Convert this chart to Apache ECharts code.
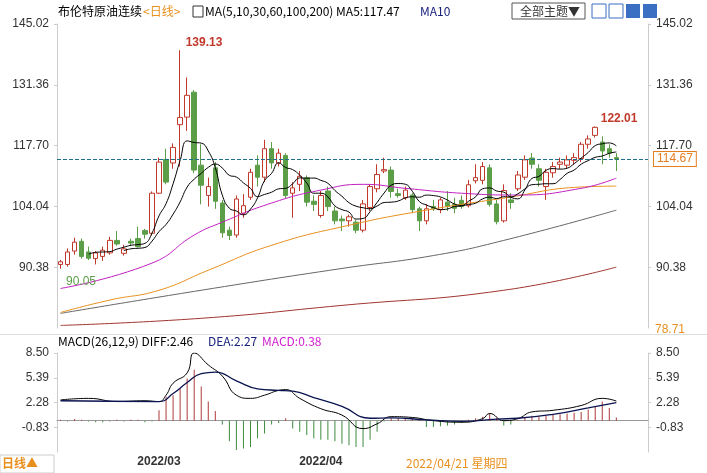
<!DOCTYPE html>
<html><head><meta charset="utf-8">
<script src="https://cdn.jsdelivr.net/npm/echarts@6/dist/echarts.min.js"></script>
<style>html,body{margin:0;padding:0;background:#fff}#c{width:707px;height:473px}</style>
</head><body><div id="c"></div>
<script>
// [open, close, low, high]
const candles = [
[91.0,91.6,90.05,92.0],[91.0,93.8,90.5,94.6],[94.0,96.0,93.2,97.0],[96.2,92.8,92.3,96.8],[93.8,92.4,92.0,95.0],
[92.3,93.6,91.0,94.0],[92.8,94.2,91.8,95.0],[93.6,96.4,93.2,97.2],[96.4,95.6,95.2,98.5],[93.5,94.5,93.0,95.4],
[96.2,95.8,95.2,96.8],[96.8,95.0,94.8,99.5],[98.6,97.8,96.8,99.0],[98.0,107.0,97.5,107.4],[107.0,114.0,106.8,115.0],
[114.6,109.5,109.0,117.0],[113.8,117.3,112.5,118.2],[122.4,124.0,113.0,139.13],[124.1,129.0,121.0,133.0],[129.7,112.2,111.5,130.2],
[113.3,108.8,104.5,118.0],[106.5,108.5,104.0,110.5],[112.7,105.2,103.5,114.0],[104.8,98.1,97.0,105.5],[98.7,97.5,96.5,99.5],
[97.6,105.7,97.0,106.5],[102.5,104.2,101.5,106.8],[106.1,111.7,105.5,112.5],[113.3,110.6,108.5,115.5],[110.6,117.0,109.5,119.0],
[117.0,113.8,112.5,118.5],[113.8,116.0,113.0,117.0],[115.5,106.5,105.8,116.0],[107.0,108.2,101.5,109.5],[109.0,110.8,107.5,112.0],
[110.5,105.0,104.0,111.0],[105.2,104.5,103.0,106.5],[102.0,106.5,101.5,107.5],[107.5,104.0,103.0,108.5],[103.0,100.8,100.0,104.0],
[101.2,100.8,98.5,102.0],[100.8,101.7,99.5,102.2],[100.5,98.7,98.0,101.0],[98.7,104.6,98.2,105.5],[103.8,108.5,103.0,109.0],
[108.0,111.2,107.2,113.5],[112.0,112.3,111.5,115.0],[112.2,107.4,106.0,113.0],[106.9,106.5,106.0,108.0],[106.0,107.7,105.5,108.5],
[106.6,103.3,102.5,107.0],[103.5,100.8,98.5,104.0],[100.8,103.5,100.0,104.5],[104.0,103.5,103.0,105.5],[103.3,105.5,102.5,106.0],
[105.0,104.0,103.0,107.5],[104.5,103.6,102.5,106.0],[105.4,104.0,103.5,106.5],[104.2,108.9,103.8,110.0],[109.8,110.5,109.2,113.5],
[109.9,113.0,109.0,114.0],[112.7,104.5,104.0,113.5],[104.6,100.6,100.0,105.5],[100.8,107.6,100.4,109.0],[105.5,104.9,103.5,107.0],
[108.0,111.1,107.5,112.0],[110.6,114.5,110.0,115.5],[114.9,113.5,112.5,116.0],[112.5,109.9,108.5,113.5],[108.5,111.7,105.5,112.5],
[111.6,113.0,110.5,114.0],[113.5,114.0,112.5,115.0],[113.3,114.5,112.5,115.5],[114.4,115.0,113.5,116.0],[114.8,118.0,114.0,118.5],
[118.0,119.2,117.0,120.0],[120.0,121.8,119.5,122.01],[118.5,116.5,113.5,119.8],[117.0,116.0,115.0,118.0],[115.0,114.67,112.0,116.0]];
const EMPTY_SLOTS = 4;
const N = candles.length + EMPTY_SLOTS;
const categories = Array.from({length:N}, (_, i) => i === 14 ? '2022/03' : (i === 37 ? '2022/04' : 'd' + i));
const ma30Pts = {0:85.6,13:91.3,19:97.6,23:100.5,30:104.8,37:107.7,43:109.0,49:108.1,57:107.0,65:106.6,74:108.1,79:110.4};
const ma60Pts = {0:80.2,7:83.0,14:85.2,21:89.7,30:95.3,41:99.8,52:103.2,63:105.9,74:108.4,79:108.6};
const ma100Pts = {0:80.0,20:85.2,40:90.1,53:93.0,63:96.4,79:103.2};
const ma200Pts = {0:77.3,20:78.9,40:81.8,63:85.2,79:90.4};
const macdBars = [0.1,-0.1,0.2,0.1,-0.1,-0.2,-0.2,-0.1,0.1,-0.1,0.1,0.1,-0.2,-0.1,1.3,3.0,3.2,4.0,5.3,6.4,
4.3,2.4,1.2,-0.5,-2.6,-3.7,-3.5,-3.3,-2.2,-1.6,-0.5,-0.3,0.3,-1.0,-1.4,-1.8,-2.2,-2.4,-2.4,-2.6,
-2.9,-3.1,-3.3,-3.3,-2.4,-1.4,-0.1,0.3,0.3,0.3,0.2,0.1,-0.8,-0.8,-0.7,-0.6,-0.5,-0.3,0.1,0.3,
0.5,0.9,0.4,-0.6,-0.5,0.1,0.4,0.6,0.5,0.6,0.7,0.8,0.9,1.0,1.1,1.4,1.8,2.4,1.6,0.38];
const diffPts = {0:2.6,4:2.8,8:2.4,12:2.5,14:2.4,15:3.2,16:4.7,18:6.0,19:8.5,21:7.0,23:5.6,25:3.2,27:2.8,29:3.2,31:3.8,32:3.9,34:2.8,37:1.5,40:0.7,43:-1.0,45:-0.4,47:0.5,50:0.4,53:0.0,57:-0.2,60:0.25,61:0.9,63:0.0,65:0.25,67:1.1,70:1.3,74:1.9,77:2.8,79:2.46};
const deaPts = {0:2.5,14:2.4,16:3.4,18:4.8,20:5.9,22:6.1,25:5.0,28:4.0,31:3.8,33:3.7,36:2.9,40:1.8,44:0.3,47:0.35,52:0.1,57:-0.1,62:0.2,65:0.3,70:0.8,75:1.6,79:2.27};
const priceTicks = [76.72, 145.02, 13.66];
const macdTicks = [-3.94, 8.50, 3.11];

function sparse(p){const a=new Array(N).fill(null);for(const k in p)a[+k]=p[k];return a;}
function ma(n){const c=candles.map(d=>d[1]);return c.map((_,i)=>{if(i<n-1)return null;let s=0;for(let j=i-n+1;j<=i;j++)s+=c[j];return +(s/n).toFixed(2);});}

const RED='#c0392b', GREEN='#5c9e48', F='"Microsoft YaHei","Noto Sans CJK SC",sans-serif';
const lbl = {color:'#333',fontSize:12,fontFamily:'Liberation Sans, Arial',formatter:v=>v.toFixed(2)};
const mpLabel = (c, off) => ({show:true,color:c,fontWeight:'bold',fontSize:12,position:'right',offset:off,formatter:p=>p.data.value});
const chart = echarts.init(document.getElementById('c'));
chart.setOption({
  animation:false,
  grid:[{left:57,right:59,top:24,height:304},{left:57,right:59,top:353,height:99}],
  xAxis:[
    {type:'category',data:categories,gridIndex:0,boundaryGap:true,axisLine:{show:false},axisTick:{show:false},axisLabel:{show:false}},
    {type:'category',data:categories,gridIndex:1,boundaryGap:true,axisLine:{lineStyle:{color:'#999'}},
     axisTick:{alignWithLabel:true,interval:(i,v)=>v.indexOf('/')>0,length:6,lineStyle:{color:'#333'}},
     axisLabel:{interval:(i,v)=>v.indexOf('/')>0,color:'#333',fontWeight:'bold',fontSize:12,margin:4}}
  ],
  yAxis:[
    {gridIndex:0,min:priceTicks[0],max:priceTicks[1],interval:priceTicks[2],position:'left',splitLine:{show:false},
     axisLine:{show:true,lineStyle:{color:'#ccc'}},axisTick:{show:true,length:3},axisLabel:Object.assign({},lbl,{showMinLabel:false,margin:8})},
    {gridIndex:0,min:priceTicks[0],max:priceTicks[1],interval:priceTicks[2],position:'right',splitLine:{show:false},
     axisLine:{show:true,lineStyle:{color:'#ccc'}},axisTick:{show:true,length:3},axisLabel:Object.assign({},lbl,{showMinLabel:false,margin:8})},
    {gridIndex:1,min:macdTicks[0],max:macdTicks[1],interval:macdTicks[2],position:'left',splitLine:{show:false},
     axisLine:{show:true,lineStyle:{color:'#ccc'}},axisTick:{show:true,length:3},axisLabel:Object.assign({},lbl,{showMinLabel:false,margin:8})},
    {gridIndex:1,min:macdTicks[0],max:macdTicks[1],interval:macdTicks[2],position:'right',splitLine:{show:false},
     axisLine:{show:true,lineStyle:{color:'#ccc'}},axisTick:{show:true,length:3},axisLabel:Object.assign({},lbl,{showMinLabel:false,margin:8})}
  ],
  series:[
    {type:'line',data:sparse(ma200Pts),connectNulls:true,smooth:true,symbol:'none',lineStyle:{color:'#a0342e',width:1}},
    {type:'line',data:sparse(ma100Pts),connectNulls:true,smooth:true,symbol:'none',lineStyle:{color:'#666',width:1}},
    {type:'line',data:sparse(ma60Pts),connectNulls:true,smooth:true,symbol:'none',lineStyle:{color:'#e8901e',width:1}},
    {type:'line',data:sparse(ma30Pts),connectNulls:true,smooth:true,symbol:'none',lineStyle:{color:'#c020c0',width:1}},
    {type:'candlestick',data:candles,barWidth:5,
     itemStyle:{color:'#fff',color0:GREEN,borderColor:RED,borderColor0:GREEN,borderWidth:1},
     markPoint:{symbol:'circle',symbolSize:1,itemStyle:{color:'rgba(0,0,0,0)'},data:[
       {coord:[17,139.13],value:'139.13',label:mpLabel('#c0392b',[0,-8])},
       {coord:[76,122.01],value:'122.01',label:mpLabel('#c0392b',[0,-8])},
       {coord:[0,90.05],value:'90.05',label:Object.assign(mpLabel('#5c9e48',[0,13]),{fontWeight:'normal'})}
     ]},
     markLine:{symbol:'none',silent:true,data:[{yAxis:114.67}],lineStyle:{color:'#1f6f8b',type:'dashed',width:1},
       label:{show:true,position:'end',formatter:'114.67',color:'#e67e22',backgroundColor:'#fff',borderColor:'#e67e22',borderWidth:1,padding:[1,3],fontSize:12,distance:6}}},
    {type:'line',data:ma(10),smooth:true,symbol:'none',lineStyle:{color:'#000',width:1}},
    {type:'line',data:ma(5),smooth:true,symbol:'none',lineStyle:{color:'#000',width:1}},
    {type:'bar',xAxisIndex:1,yAxisIndex:2,data:macdBars,barWidth:1,itemStyle:{color:p=>p.value>=0?'#b03a3a':'#3e8a3e'}},
    {type:'line',xAxisIndex:1,yAxisIndex:2,data:sparse(diffPts),connectNulls:true,smooth:true,symbol:'none',lineStyle:{color:'#000',width:1}},
    {type:'line',xAxisIndex:1,yAxisIndex:2,data:sparse(deaPts),connectNulls:true,smooth:true,symbol:'none',lineStyle:{color:'#0a1450',width:1.3}}
  ],
  graphic:[
    {type:'rect',shape:{x:0,y:334,width:707,height:1},style:{fill:'#ddd'}},
    {type:'text',left:58,top:5,style:{text:'布伦特原油连续',font:'12px '+F,fill:'#000'}},
    {type:'text',left:143,top:5,style:{text:'<日线>',font:'12px '+F,fill:'#e8901e'}},
    {type:'rect',shape:{x:193,y:6,width:10,height:11},style:{fill:'#fff',stroke:'#333'}},
    {type:'text',left:205,top:5,style:{text:'MA(5,10,30,60,100,200) MA5:117.47',font:'12px '+F,fill:'#000'}},
    {type:'text',left:420,top:5,style:{text:'MA10',font:'12px '+F,fill:'#1a237e'}},
    {type:'rect',shape:{x:512,y:3,width:73,height:16},style:{fill:'#fff',stroke:'#555'}},
    {type:'text',left:520,top:5,style:{text:'全部主题▼',font:'12px '+F,fill:'#333'}},
    {type:'rect',shape:{x:592,y:4,width:14,height:14},style:{fill:'#fff',stroke:'#3a6fc4'}},
    {type:'rect',shape:{x:609,y:4,width:14,height:14},style:{fill:'#fff',stroke:'#3a6fc4'}},
    {type:'rect',shape:{x:626,y:4,width:14,height:14},style:{fill:'#3a6fc4'}},
    {type:'rect',shape:{x:643,y:4,width:14,height:14},style:{fill:'#3a6fc4'}},
    {type:'text',left:655,top:324,style:{text:'78.71',font:'12px Liberation Sans',fill:'#e8901e'}},
    {type:'text',left:58,top:335,style:{text:'MACD(26,12,9) DIFF:2.46',font:'12px '+F,fill:'#000'}},
    {type:'text',left:208,top:335,style:{text:'DEA:2.27',font:'12px '+F,fill:'#1a237e'}},
    {type:'text',left:262,top:335,style:{text:'MACD:0.38',font:'12px '+F,fill:'#d020d0'}},
    {type:'rect',shape:{x:0,y:455,width:54,height:18},style:{fill:'#fff',stroke:'#ccc'}},
    {type:'text',left:2,top:457,style:{text:'日线▲',font:'bold 12px '+F,fill:'#e8901e'}},
    {type:'text',left:406,top:457,style:{text:'2022/04/21 星期四',font:'12px '+F,fill:'#e8901e'}}
  ]
});
</script></body></html>
